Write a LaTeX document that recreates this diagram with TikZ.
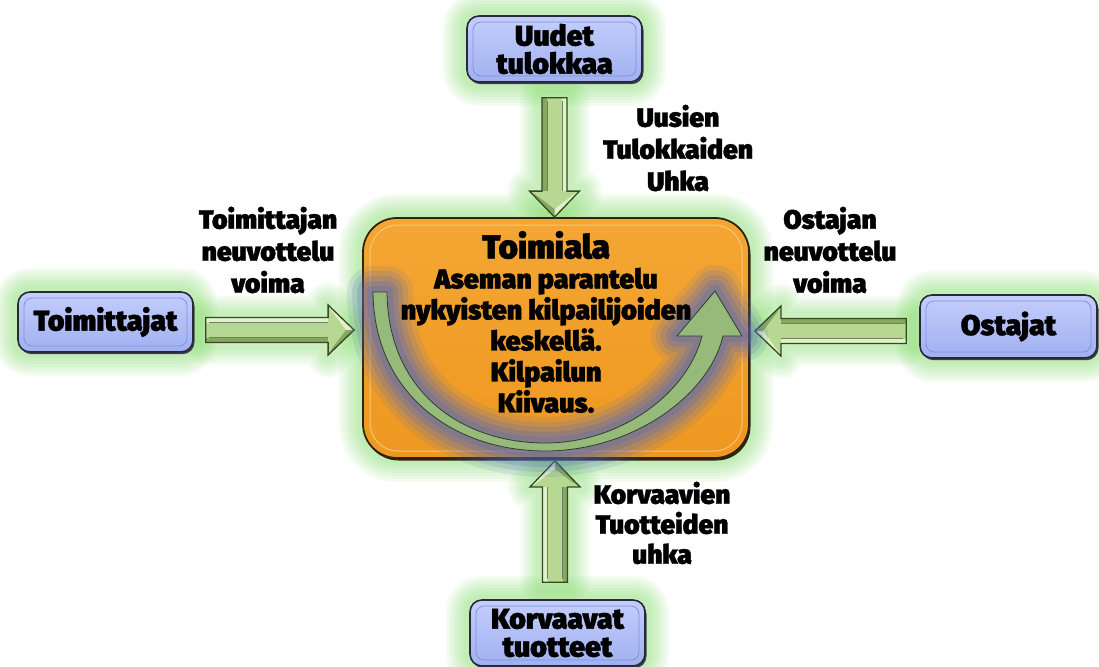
\documentclass[tikz,border=0pt]{standalone}
\usepackage{fontspec}
\newfontfamily\heavy{Fira Sans Black}[FakeBold=1.2]
\usetikzlibrary{calc}
\pgfdeclarelayer{background}
\pgfsetlayers{background,main}

\definecolor{glowgreen}{RGB}{115,218,85}
\definecolor{bluetop}{RGB}{196,206,252}
\definecolor{bluebot}{RGB}{160,176,240}
\definecolor{boxedge}{RGB}{40,42,60}
\definecolor{bevelblue}{RGB}{130,146,215}
\definecolor{orangetop}{RGB}{244,166,52}
\definecolor{orangebot}{RGB}{238,152,32}
\definecolor{orangeedge}{RGB}{50,35,15}
\definecolor{bevelorange}{RGB}{250,196,120}
\definecolor{arface}{RGB}{182,216,146}
\definecolor{arlight}{RGB}{224,242,202}
\definecolor{ardark}{RGB}{132,168,96}
\definecolor{aredge}{RGB}{55,72,38}
\definecolor{curvefill}{RGB}{150,186,122}
\definecolor{curveedge}{RGB}{50,60,45}
\definecolor{curvehalo}{RGB}{80,105,190}

\tikzset{
  forcebox/.style={rounded corners=12pt, minimum width=175pt, minimum height=64pt,
    inner sep=0pt, draw=boxedge, line width=1.6pt, top color=bluetop, bottom color=bluebot,
    preaction={fill=boxedge!90, transform canvas={shift={(1.5pt,-2.2pt)}}},
    align=center, font=\heavy\fontsize{28.5}{32}\selectfont,
    path picture={\draw[bevelblue, line width=0.8pt, rounded corners=8pt]
      ([shift={(6pt,6pt)}]path picture bounding box.south west) rectangle
      ([shift={(-6pt,-6pt)}]path picture bounding box.north east);}},
  industrybox/.style={rounded corners=34pt, minimum width=386pt, minimum height=240pt,
    inner sep=0pt, draw=orangeedge, line width=1.8pt, top color=orangetop, bottom color=orangebot,
    preaction={fill=orangeedge, transform canvas={shift={(1.5pt,-2.5pt)}}},
    path picture={\draw[bevelorange, line width=1pt, rounded corners=28pt]
      ([shift={(7pt,7pt)}]path picture bounding box.south west) rectangle
      ([shift={(-7pt,-7pt)}]path picture bounding box.north east);}},
  forcelabel/.style={align=center, inner sep=0pt, font=\heavy\fontsize{26.5}{32}\selectfont},
  industrytext/.style={align=center, inner sep=0pt, font=\heavy\fontsize{27}{31}\selectfont},
  glowline/.style={glowgreen, opacity=0.075, line join=round}
}

% soft green halo behind a box node
\newcommand\glowbox[2]{%
  \begin{pgfonlayer}{background}
    \foreach \w in {46,40,34,28,22,16,10}
      \draw[glowline, line width=\w pt, rounded corners=#2] (#1.south west) rectangle (#1.north east);
  \end{pgfonlayer}}

% outline of a block arrow lying along the local x axis
\newcommand\arrowoutline{(0pt,-12.5pt) -- (\arneck pt,-12.5pt) -- (\arneck pt,-25pt)
  -- (\arlen pt,0pt) -- (\arneck pt,25pt) -- (\arneck pt,12.5pt) -- (0pt,12.5pt) -- cycle}

% bevelled block arrow from #1 to #2
\newcommand\blockarrow[2]{%
  \path (#1); \pgfgetlastxy\arxa\arya
  \path (#2); \pgfgetlastxy\arxb\aryb
  \pgfmathsetmacro\arang{atan2(\aryb-\arya,\arxb-\arxa)}%
  \pgfmathsetmacro\arlen{veclen(\arxb-\arxa,\aryb-\arya)}%
  \pgfmathsetmacro\arneck{\arlen-26}%
  \pgfmathsetmacro\arinner{\arlen-8}%
  \pgfmathsetmacro\arback{\arlen-21}%
  \begin{scope}[shift={(#1)}, rotate=\arang]
    \begin{pgfonlayer}{background}
      \foreach \w in {44,38,32,26,20,14}
        \draw[glowline, line width=\w pt] \arrowoutline;
    \end{pgfonlayer}
    \fill[arface] \arrowoutline;
    \fill[arlight] (0pt,12.5pt) rectangle (\arneck pt,7.5pt);
    \fill[ardark] (0pt,-12.5pt) rectangle (\arneck pt,-7.5pt);
    \fill[arlight] (\arneck pt,25pt) -- (\arlen pt,0pt) -- (\arinner pt,0pt) -- (\arback pt,17pt) -- cycle;
    \fill[ardark] (\arneck pt,-25pt) -- (\arlen pt,0pt) -- (\arinner pt,0pt) -- (\arback pt,-17pt) -- cycle;
    \draw[aredge!70, line width=0.6pt] (3pt,7.5pt) -- (\arneck pt,7.5pt) (3pt,-7.5pt) -- (\arneck pt,-7.5pt);
    \draw[aredge, line width=1.3pt, line join=miter] \arrowoutline;
  \end{scope}}

% curved rising arrow inside the industry box
\newcommand\curvepath{(373,292) .. controls (374,395) and (455,451) .. (545,451)
  .. controls (630,451) and (708,398) .. (723,336) -- (742,336) -- (715,291) -- (677,336)
  -- (702,336) .. controls (688,392) and (622,443) .. (545,443)
  .. controls (462,443) and (388,392) .. (387,292) -- cycle}

\begin{document}
\begin{tikzpicture}[x=1pt, y=-1pt]
  \useasboundingbox (0,0) rectangle (1099,666);
  \begin{pgfonlayer}{background}
    \fill[white] (0,0) rectangle (1099,666);
  \end{pgfonlayer}

  % the five forces
  \node[forcebox, minimum height=66pt] (top) at (554.5,49) {Uudet\\[-4pt]tulokkaa};
  \node[forcebox, minimum height=60pt] (left) at (105.5,322) {Toimittajat};
  \node[forcebox, minimum width=177pt, minimum height=63pt] (right) at (1008.5,326.5) {Ostajat};
  \node[forcebox, minimum height=66pt] (bot) at (557.5,633) {Korvaavat\\[-4pt]tuotteet};
  \node[industrybox] (cbox) at (556,338) {};

  \glowbox{top}{12pt}
  \glowbox{left}{12pt}
  \glowbox{right}{12pt}
  \glowbox{bot}{12pt}
  \glowbox{cbox}{34pt}

  % arrow end points
  \coordinate (ta) at ($(top.south)+(0,15)$);
  \coordinate (tb) at (ta |- cbox.north);
  \coordinate (la) at ($(left.east)+(12,8)$);
  \coordinate (lx) at ($(cbox.west)+(-8,0)$);
  \coordinate (lb) at (lx |- la);
  \coordinate (ra) at ($(right.west)+(-13,4.5)$);
  \coordinate (rx) at ($(cbox.east)+(5,0)$);
  \coordinate (rb) at (rx |- ra);
  \coordinate (ba) at ($(bot.north)+(-2.5,-17)$);
  \coordinate (bx) at ($(cbox.south)+(0,2)$);
  \coordinate (bb) at (ba |- bx);

  \blockarrow{ta}{tb}
  \blockarrow{la}{lb}
  \blockarrow{ra}{rb}
  \blockarrow{ba}{bb}

  % curved arrow with its dusky halo
  \foreach \w/\o in {52/0.12, 42/0.16, 32/0.20, 22/0.24, 12/0.28}
    \draw[curvehalo, opacity=\o, line width=\w pt, line join=round] \curvepath;
  \fill[curvefill] \curvepath;
  \draw[curveedge, line width=0.8pt, line join=miter] \curvepath;

  \node[industrytext] (ctext) at ($(cbox.center)+(-10,-16)$)
    {{\fontsize{33}{34}\selectfont Toimiala}\\[-1pt]
     Aseman parantelu\\ nykyisten kilpailijoiden\\ keskellä.\\ Kilpailun\\ Kiivaus.};

  % labels of the forces
  \node[forcelabel] (lnew) at (678,148) {Uusien\\Tulokkaiden\\Uhka};
  \node[forcelabel] (lsup) at (268,250) {Toimittajan\\neuvottelu\\voima};
  \node[forcelabel] (lbuy) at (830,250) {Ostajan\\neuvottelu\\voima};
  \node[forcelabel] (lsub) at (662,523) {Korvaavien\\[-2pt]Tuotteiden\\[-2pt]uhka};
\end{tikzpicture}
\end{document}
